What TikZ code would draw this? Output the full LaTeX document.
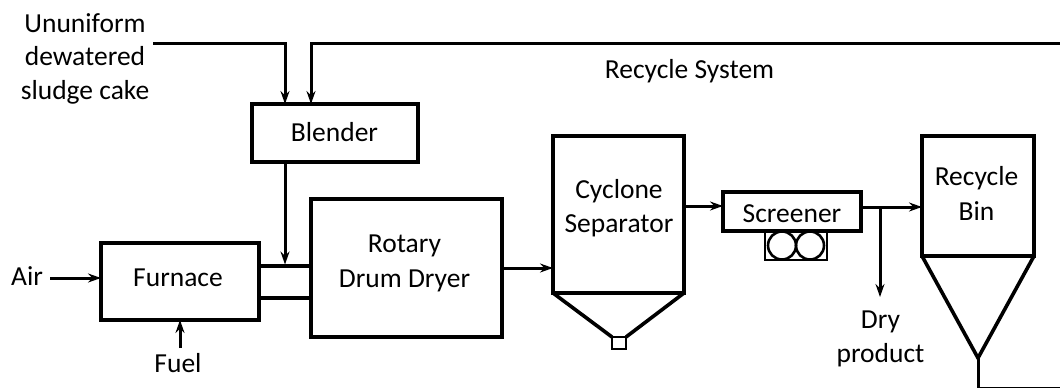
\documentclass[tikz,border=0pt]{standalone}
\usepackage{fontspec}
\setmainfont{Carlito}
\usetikzlibrary{arrows.meta}
\begin{document}
\begin{tikzpicture}[x=1pt,y=-1pt,
  every node/.style={font=\fontsize{27.5}{34}\selectfont, inner sep=0pt, outer sep=0pt},
  txt/.style={anchor=base},
  box/.style={draw, line width=3.6pt, inner sep=0pt, minimum width=#1},
  box/.default=10pt,
  line/.style={line width=3.6pt},
  thinline/.style={line width=2.6pt},
  arr/.style={line width=3pt, -{Stealth[length=13pt,width=9pt,inset=4.5pt]}}]
\useasboundingbox (0,0) rectangle (1060,388);
\clip (0,0) rectangle (1060,388);

% equipment
\node[box=166pt, minimum height=58pt] (blender) at (335,133) {};
\node[box=158pt, minimum height=77pt] (furnace) at (180,281.5) {};
\node[box=191pt, minimum height=138pt] (dryer) at (406.5,268) {};
\node[box=131pt, minimum height=157pt] (cyclone) at (618.5,214.5) {};
\node[box=138pt, minimum height=39pt] (screener) at (792,211.5) {};
\node[box=112pt, minimum height=120pt] (bin) at (978,196) {};

% cyclone cone and outlet
\coordinate (cyl) at (612,337);
\coordinate (cyr) at (626,337);
\draw[line, line join=miter] (cyclone.south west) -- (cyl);
\draw[line, line join=miter] (cyclone.south east) -- (cyr);
\node[draw, thinline, minimum width=14pt, minimum height=12pt] (outlet) at (619,343) {};

% screener rollers
\node[draw, thinline, minimum width=62pt, minimum height=29pt] (rollers) at (796,245.5) {};
\node[draw, thinline, circle, minimum size=28pt] (roll1) at (782,245.5) {};
\node[draw, thinline, circle, minimum size=28pt] (roll2) at (810,245.5) {};

% recycle bin cone
\coordinate (bintip) at (978,358);
\draw[line, line join=miter] (bin.south west) -- (bintip) -- (bin.south east);

% texts
\node[txt] (t1) at (85,32) {Ununiform};
\node[txt] (t2) at (85,65) {dewatered};
\node[txt] (t3) at (85,99) {sludge cake};
\node[txt] (tblender) at (334.5,141) {Blender};
\node[txt] (tfurnace) at (178,286) {Furnace};
\node[txt] (air) at (27,285) {Air};
\node[txt] (fuel) at (178,372) {Fuel};
\node[txt] (trot) at (404.5,252) {Rotary};
\node[txt] (tdrum) at (404.5,287) {Drum Dryer};
\node[txt] (tcyc) at (619,198) {Cyclone};
\node[txt] (tsep) at (619,232) {Separator};
\node[txt] (tscr) at (792,222) {Screener};
\node[txt] (trec) at (976.5,185) {Recycle};
\node[txt] (tbin) at (976.5,220) {Bin};
\node[txt] (tdry) at (880.5,328) {Dry};
\node[txt] (tprod) at (880.5,362) {product};
\node[txt] (trs) at (689.5,78) {Recycle System};

% connectors
\coordinate (sludgein) at (153,43);
\draw[arr] (sludgein) -| ([xshift=33pt]blender.north west);
\draw[arr] (bintip) -- (978,388) -- (1085,388) -- (1085,43) -| ([xshift=59pt]blender.north west);
\coordinate (ductA) at ([yshift=15.5pt]furnace.east);
\coordinate (ductB) at ([yshift=-16.5pt]furnace.east);
\draw[line] (ductA) -- (ductA -| dryer.west);
\draw[line] (ductB) -- (ductB -| dryer.west);
\draw[arr] ([xshift=33pt]blender.south west) -- ([xshift=33pt,yshift=1.5pt]blender.south west |- ductA);
\coordinate (airstart) at (50,278);
\draw[arr] (airstart) -- (airstart -| furnace.west);
\coordinate (fuelstart) at (180,348);
\draw[arr] (fuelstart) -- (furnace.south);
\draw[arr] (dryer.east) -- (dryer.east -| cyclone.west);
\draw[arr] (cyclone.east |- 0,206) -- (screener.west |- 0,206);
\coordinate (scrout) at (screener.east |- 0,207);
\draw[arr] (scrout) -- (scrout -| bin.west);
\coordinate (dp) at (880,207);
\coordinate (dpend) at (880,297);
\draw[arr] (dp) -- (dpend);
\end{tikzpicture}
\end{document}
